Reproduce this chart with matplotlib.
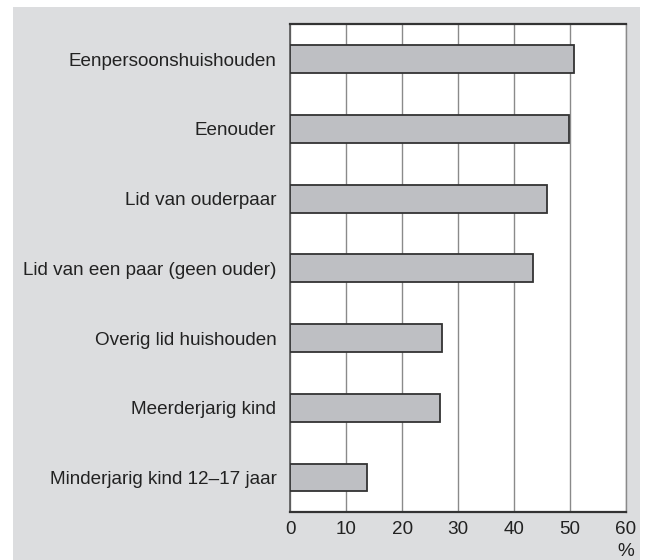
import matplotlib.pyplot as plt
from matplotlib.patches import Rectangle

plt.rcParams['font.family'] = ['Liberation Sans', 'DejaVu Sans']

categories = ['Eenpersoonshuishouden', 'Eenouder', 'Lid van ouderpaar',
              'Lid van een paar (geen ouder)', 'Overig lid huishouden',
              'Meerderjarig kind', 'Minderjarig kind 12\u201317 jaar']
values = [50.7, 49.9, 45.9, 43.5, 27.2, 26.8, 13.8]
xticks = [0, 10, 20, 30, 40, 50, 60]

panel = '#dcdddf'
fig = plt.figure(figsize=(6.45, 5.6), dpi=100)
bg = Rectangle((13 / 645, 0), 627 / 645, 553 / 560,
               transform=fig.transFigure, facecolor=panel,
               edgecolor='none', zorder=-10)
fig.patches.append(bg)

ax = fig.add_axes([290.3 / 645, 47.7 / 560, 335.4 / 645, 488 / 560])
ax.set_zorder(1)
ypos = list(range(len(categories)))
ax.barh(ypos, values, height=0.40, color='#bebfc3', edgecolor='#333333',
        linewidth=1.3, zorder=3)

ax.set_xlim(0, 60)
ax.set_ylim(len(categories) - 0.5, -0.5)
ax.set_xticks(xticks)
ax.set_yticks(ypos)
ax.set_yticklabels(categories, fontsize=13.6, color='#222222')
ax.tick_params(axis='y', length=0, pad=10)
ax.tick_params(axis='x', length=0, pad=6, labelsize=13.6, labelcolor='#222222')
ax.xaxis.grid(True, color='#8a8a8a', linewidth=1.0, zorder=1)
ax.set_axisbelow(True)

for side in ['top', 'bottom']:
    ax.spines[side].set_color('#333333')
    ax.spines[side].set_linewidth(1.6)
ax.spines['left'].set_color('#555555')
ax.spines['left'].set_linewidth(1.2)
ax.spines['right'].set_color('#8a8a8a')
ax.spines['right'].set_linewidth(1.0)

ax.text(60, -0.08, '%', transform=ax.get_xaxis_transform(), ha='center',
        va='center', fontsize=13.6, color='#222222')

fig.savefig('out.png', dpi=100)
